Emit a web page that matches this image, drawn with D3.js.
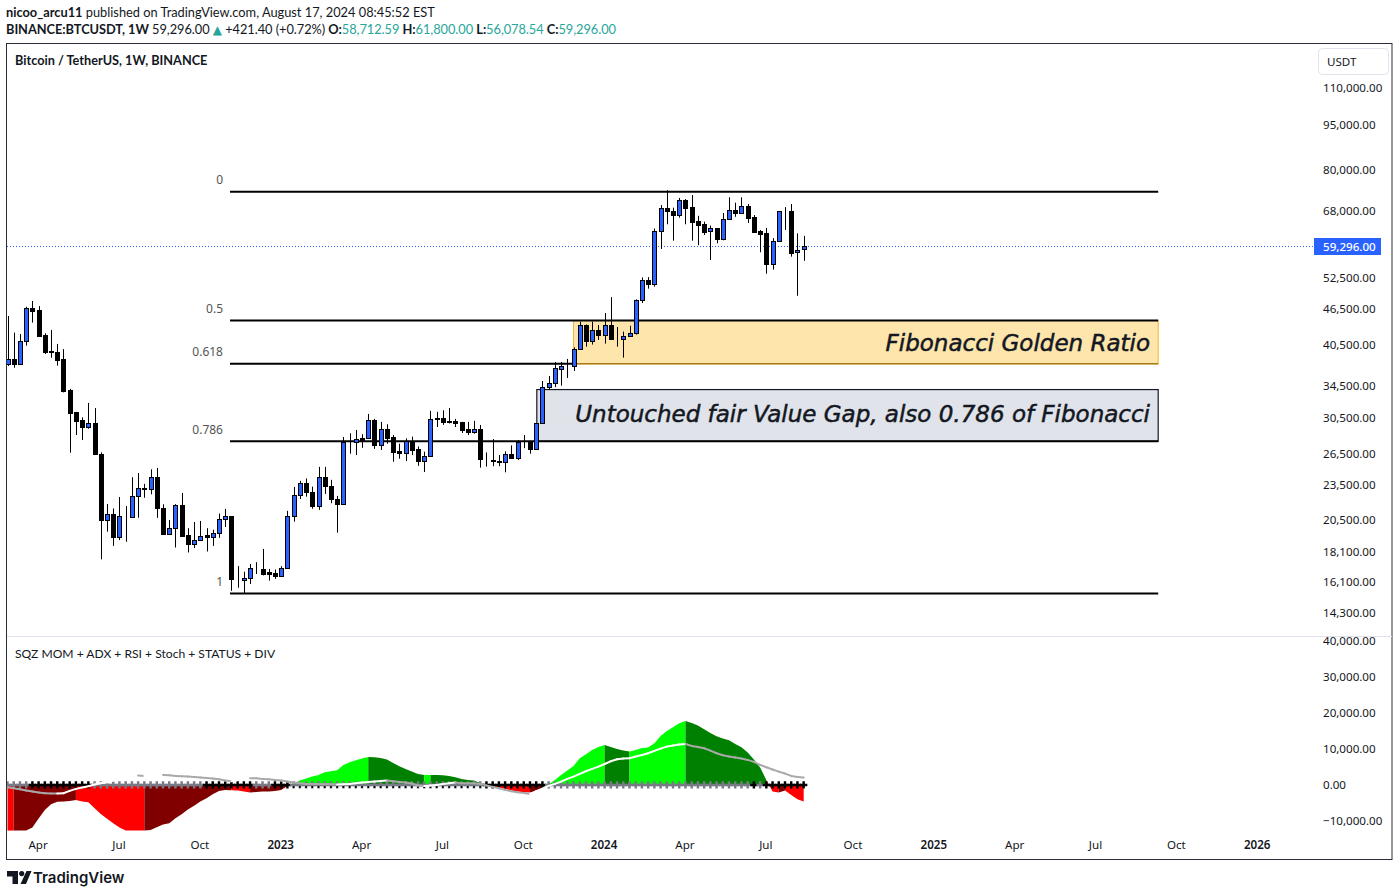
<!DOCTYPE html>
<html><head><meta charset="utf-8">
<style>html,body{margin:0;padding:0;background:#fff}svg{display:block}text{font-family:"Noto Sans",sans-serif}</style>
<script src="https://cdn.jsdelivr.net/npm/d3@7"></script></head><body>
<svg id="c" width="1399" height="896"></svg>
<script>
const opens=[37550,38230,37600,41000,46595,46330,42040,39520,39360,38230,
33940,31130,30180,29355,29830,26430,20450,20940,19190,20770,
20680,22450,23160,23070,24180,21430,19420,19890,21680,19290,
18670,18915,19290,19140,19440,20530,20770,16260,16200,16320,
17030,16930,16700,16680,16490,17010,20770,22540,23630,22815,
21650,24160,23410,22250,21825,27770,27770,28130,28130,30180,
27440,29130,28280,26740,26600,27840,26980,25790,26230,30420,
30420,30070,30070,29950,29130,28860,29130,26000,25890,25780,
25680,26430,26090,27770,27770,27000,29830,34280,34830,36900,
37220,37220,39770,43650,41130,42810,42090,43640,41520,41330,
41830,42300,48100,51980,51300,62900,68730,68000,66920,70950,
69000,65380,64630,62900,63590,61130,65900,68250,67450,69300,
66400,63000,62400,55410,60500,68000,68000,57950,58712.59];
const highs=[45250,42425,42200,46910,47970,47035,42313,42870,40600,39790,
34100,31170,30520,32280,31640,26635,21795,21420,22390,21620,
24190,24580,23570,24940,25075,21770,20480,21780,22750,19840,
20320,20400,19840,19720,21000,21380,20800,17120,16750,17260,
17380,18300,16930,16890,17110,21220,23290,23850,24065,23315,
25175,25175,23940,22490,28270,28690,29060,28590,30930,30340,
29990,29710,28490,27550,28130,28320,27250,26710,31300,31180,
31370,31650,30340,29990,29990,30100,29630,26630,28050,26360,
26740,27370,27950,28490,27800,29830,35150,35840,37850,37850,
38300,40060,44270,43800,44280,43700,45790,48700,43360,42590,
43570,48280,52570,52640,63590,69650,73777,68950,71600,71300,
72420,66800,65300,64300,63700,67540,71800,70300,71800,69950,
67000,63230,63730,61250,68000,69100,69950,62400,61800];
const lows=[37270,37010,37460,40330,44106,41755,39050,38480,37320,33630,
26600,28490,27950,29200,26390,17576,19570,18520,18940,18820,
20660,20660,22330,22630,20650,19410,19400,18400,19260,18050,
18360,18890,18120,18520,19110,19930,15550,15740,15410,15970,
16600,16510,16180,16290,16470,16990,20350,22220,22420,21390,
21300,22665,21860,19495,21770,26500,26360,27110,28090,27005,
26880,27550,25680,25990,25750,26360,25280,24680,26200,29395,
29640,29800,29395,28720,28490,28640,25100,25200,25240,25240,
24650,26060,25850,27070,26500,27000,29790,34000,34330,34520,
35570,36550,39700,40170,40500,41240,40650,41450,40170,38500,
41770,42090,47590,50330,50720,58730,64640,60650,66320,64640,
60650,59590,62000,56270,60020,60730,65900,66550,67400,64980,
62800,57980,53340,54190,60500,63230,57000,48960,56078.54];
const closes=[38230,37600,41025,46595,46210,41920,39410,39310,38200,33850,
31090,30140,29355,29830,26430,20450,20940,19190,20770,20800,
22450,23160,23070,24180,21430,19420,19890,21680,19265,18670,
18915,19265,19140,19440,20530,20770,16260,16300,16320,17010,
17040,16620,16620,16470,17010,20770,22540,23630,22815,21650,
24160,23410,22250,21825,27760,27760,28020,27950,30180,27440,
29130,28170,26710,26600,27840,26910,25790,26230,30270,30270,
29990,29990,29910,29100,28860,29130,25990,25990,25780,25680,
26430,26090,27770,27770,27000,29830,34280,34830,36940,37220,
37220,39780,43650,41130,42810,42090,43640,41450,41500,41830,
42300,48100,51980,51300,62900,68730,68000,66920,70950,68920,
65300,64550,62820,63590,61130,65900,68250,67450,69300,66300,
62820,62320,55410,60500,68000,68000,57900,58430,59296];

const momentum=[-12650,-12650,-12650,-12650,-11800,-9290,-6920,-5350,-4700,-4600,
-4430,-4150,-4600,-4800,-6460,-8030,-9410,-10600,-11800,-12650,
-12650,-12650,-12650,-12460,-11700,-11000,-10600,-9230,-8120,-6830,
-5800,-4600,-3700,-2580,-1660,-1380,-1480,-1570,-1850,-2120,
-1940,-1850,-1850,-1660,-1380,-280,460,1200,1750,2300,
2770,3500,3780,4060,5540,6280,6830,7290,7750,7660,
7480,7015,6090,5170,4430,3690,3050,2770,2770,2770,
2680,2490,2120,1660,1380,1200,550,-280,-460,-740,
-1100,-1570,-1850,-2030,-2120,-1850,-1100,180,1380,2770,
3970,5260,7380,8490,9690,10520,11080,10520,9970,9500,
9230,9690,10250,10340,11540,13570,14950,15970,17080,17720,
17170,16430,15410,14400,13480,12830,12370,11350,10430,8950,
7010,4800,1380,-1850,-2120,-1570,-2770,-3970,-4620];
const signal=[-650,-920,-1200,-1570,-1850,-2120,-2300,-2400,-2400,-2300,
-1660,-1100,-740,-370,90,460,740,1200,1660,2120,
2400,2580,2490,2580,2680,2770,2680,2490,2400,2300,
2215,2030,1940,1750,1570,1200,1015,1380,1570,1850,
1850,1660,1570,1380,1200,920,650,460,280,280,
280,180,180,90,180,280,460,650,830,920,
1110,1200,1015,830,650,370,-180,-280,-180,0,
280,460,650,460,460,460,280,-180,-550,-920,
-1380,-1750,-2030,-2220,-2490,-1750,-1020,-280,280,920,
1660,2310,3050,3780,4430,5080,5800,6550,7100,7290,
7380,7850,8300,8770,9410,10060,10600,10890,11170,11350,
10800,10520,10150,9500,8770,8210,7850,7570,7290,6920,
6370,5540,4890,4250,3690,3140,2490,2215,2030];
// per-bar state: R red, M maroon, L lime, G green
const momentumState="R"+"M".repeat(10)+"R".repeat(11)+"M".repeat(14)+"R".repeat(3)+"M".repeat(6)+"L".repeat(13)+"G".repeat(9)+"L"+"G".repeat(9)+"R".repeat(7)+"M".repeat(2)+"L".repeat(10)+"G".repeat(4)+"L".repeat(9)+"G".repeat(13)+"R".repeat(2)+"M"+"R".repeat(4);
// squeeze state: 0 grey, 1 black, 2 grey with black dot
const squeezeState="0".repeat(4)+"1".repeat(10)+"0".repeat(18)+"1".repeat(8)+"0".repeat(3)+"1".repeat(3)+"2".repeat(31)+"1".repeat(10)+"0".repeat(33)+"1"+"0"+"1".repeat(7);

const priceTicks=[110000,95000,80000,68000,52500,46500,40500,34500,30500,26500,23500,20500,18100,16100,14300];
const paneTicks=[40000,30000,20000,10000,0,-10000];
const timeIdx=[5,18,31,44,57,70,83,96,109,122,136,149,162,175,188,201];
const timeLabels=["Apr","Jul","Oct","2023","Apr","Jul","Oct","2024","Apr","Jul","Oct","2025","Apr","Jul","Oct","2026"];
const fibLevels=["0","0.5","0.618","0.786","1"];
const fibPrices=[73340,44460,37590,27810,15385];
const goldBox={from:91,to:185,top:44460,bottom:37590};
const gapBox={from:85.1,to:185,top:34000,bottom:27810};
const lastPrice=59296;

const svg=d3.select("#c");
const x=d3.scaleLinear().domain([0,128]).range([7.5,803.66]);
const y=d3.scaleLog().domain([14300,110000]).range([612.4,87.5]);
const yp=d3.scaleLinear().domain([-10000,40000]).range([821,640.5]);
const ink="#131722";

const defs=svg.append("defs");
defs.append("clipPath").attr("id","pm").append("rect").attr("x",7).attr("y",44).attr("width",1307).attr("height",592);
defs.append("clipPath").attr("id","ip").append("rect").attr("x",7).attr("y",637).attr("width",1307).attr("height",222);

// header
const h1=svg.append("text").attr("x",6).attr("y",17).style("font-family","Lato").style("font-size","12.8px").attr("fill",ink);
h1.append("tspan").attr("font-weight",700).text("nicoo_arcu11");
h1.append("tspan").text(" published on TradingView.com, August 17, 2024 08:45:52 EST");
const h2=svg.append("text").attr("x",6).attr("y",34).style("font-family","Lato").style("font-size","12.8px").attr("fill",ink).attr("textLength",610).attr("lengthAdjust","spacing");
const teal="#26a69a";
[["BINANCE:BTCUSDT, 1W",700,ink],["  59,296.00 ",400,ink],["▲",400,teal],[" +421.40 (+0.72%) ",400,ink],["O:",700,ink],["58,712.59 ",400,teal],["H:",700,ink],["61,800.00 ",400,teal],["L:",700,ink],["56,078.54 ",400,teal],["C:",700,ink],["59,296.00",400,teal]]
 .forEach(s=>{const t=h2.append("tspan").attr("font-weight",s[1]).attr("fill",s[2]).text(s[0]); if(s[0]==="▲") t.style("font-family","DejaVu Sans").style("font-size","12px");});

// frame
svg.append("rect").attr("x",6.5).attr("y",43.5).attr("width",1385.5).attr("height",816).attr("fill","none").attr("stroke","#2a2e39").attr("stroke-width",1);
svg.append("line").attr("x1",7).attr("x2",1392).attr("y1",636.5).attr("y2",636.5).attr("stroke","#e0e3eb");
svg.append("text").attr("x",15).attr("y",64.5).style("font-family","Lato").style("font-size","12.7px").attr("font-weight",700).attr("fill",ink).text("Bitcoin / TetherUS, 1W, BINANCE");
svg.append("text").attr("x",15).attr("y",657.5).style("font-family","Lato").style("font-size","12.1px").attr("fill",ink).text("SQZ MOM + ADX + RSI + Stoch + STATUS + DIV");

const main=svg.append("g").attr("clip-path","url(#pm)");
// zones
main.append("rect").attr("x",x(gapBox.from)).attr("y",y(gapBox.top)).attr("width",x(gapBox.to)-x(gapBox.from)).attr("height",y(gapBox.bottom)-y(gapBox.top)).attr("fill","#e0e3e9").attr("stroke","#131722").attr("stroke-width",1.2);
main.append("rect").attr("x",x(goldBox.from)).attr("y",y(goldBox.top)).attr("width",x(goldBox.to)-x(goldBox.from)).attr("height",y(goldBox.bottom)-y(goldBox.top)).attr("fill","#fde5ac").attr("stroke","#f5b335").attr("stroke-width",1);
// price line
main.append("line").attr("x1",7).attr("x2",1314).attr("y1",Math.round(y(lastPrice))+0.5).attr("y2",Math.round(y(lastPrice))+0.5).attr("stroke","#2962ff").attr("stroke-dasharray","1 2");
// fib
main.selectAll("line.fib").data(fibPrices).join("line").attr("class","fib").attr("x1",230).attr("x2",d=>d===goldBox.bottom?x(goldBox.from):x(goldBox.to)).attr("y1",d=>y(d)).attr("y2",d=>y(d)).attr("stroke","#000").attr("stroke-width",2);
main.append("line").attr("x1",x(goldBox.from)).attr("x2",x(goldBox.to)).attr("y1",y(goldBox.bottom)).attr("y2",y(goldBox.bottom)).attr("stroke","#a87c10").attr("stroke-width",1.5);
svg.selectAll("text.fl").data(fibLevels).join("text").attr("class","fl").attr("x",223).attr("y",(d,i)=>y(fibPrices[i])-11.5).attr("dy","0.35em").attr("text-anchor","end").attr("font-size",12).attr("fill","#555").text(d=>d);
// candles
const cg=main.selectAll("g.cd").data(d3.range(opens.length)).join("g").attr("class","cd");
cg.append("line").attr("x1",i=>Math.round(x(i))+.5).attr("x2",i=>Math.round(x(i))+.5).attr("y1",i=>y(highs[i])).attr("y2",i=>y(lows[i])).attr("stroke","#000").attr("stroke-width",1);
cg.append("rect").attr("x",i=>Math.round(x(i))-1.5).attr("width",4)
 .attr("y",i=>Math.round(y(Math.max(opens[i],closes[i])))+.5)
 .attr("height",i=>Math.max(0,Math.round(y(Math.min(opens[i],closes[i])))-Math.round(y(Math.max(opens[i],closes[i])))))
 .attr("fill",i=>closes[i]>=opens[i]?"#2962ff":"#000").attr("stroke","#000").attr("stroke-width",1);
// annotation text
svg.append("text").attr("x",1150).attr("y",y(40850)).attr("dy","0.36em").attr("text-anchor","end").style("font-family","DejaVu Sans").style("font-style","italic").attr("font-size",23).attr("fill","#131722").attr("stroke","#131722").attr("stroke-width",.5).text("Fibonacci Golden Ratio");
svg.append("text").attr("x",1150).attr("y",y(30950)).attr("dy","0.36em").attr("text-anchor","end").style("font-family","DejaVu Sans").style("font-style","italic").attr("font-size",23).attr("fill","#131722").attr("stroke","#131722").attr("stroke-width",.5).text("Untouched fair Value Gap, also 0.786 of Fibonacci");

// indicator pane: contiguous bars of one state become one area
const stateColor={R:"#ff0000",M:"#800000",L:"#00ff00",G:"#008000"};
const pane=svg.append("g").attr("clip-path","url(#ip)");
const runs=[];
d3.range(momentum.length-1).forEach(i=>{
  const last=runs[runs.length-1];
  if(last&&momentumState[last[0]]===momentumState[i]) last.push(i+1); else runs.push([i,i+1]);
});
const area=d3.area().x(i=>x(i)).y0(yp(0)).y1(i=>yp(momentum[i]));
pane.selectAll("path.m").data(runs).join("path").attr("class","m").attr("d",area).attr("fill",r=>stateColor[momentumState[r[0]]]);
pane.selectAll("path.s").data(d3.range(momentum.length)).join("path").attr("class","s").attr("transform",i=>`translate(${x(i)},${yp(0)})`).attr("d",d3.symbol(d3.symbolCross,30)).attr("fill",i=>squeezeState[i]==="1"?"#000":"#787b86");
pane.selectAll("circle.d").data(d3.range(momentum.length).filter(i=>squeezeState[i]==="2")).join("circle").attr("class","d").attr("cx",i=>x(i)).attr("cy",yp(0)+2.2).attr("r",1).attr("fill","#000");
const line=d3.line().x(i=>x(i)).y(i=>yp(signal[i]));
pane.selectAll("path.l").data(d3.range(signal.length-1)).join("path").attr("class","l").attr("d",i=>line([i,i+1])).attr("fill","none").attr("stroke-width",2).attr("stroke-linecap","round").attr("stroke",i=>signal[i+1]>signal[i]?"#ffffff":"#a9a9a9");

// axes
const fmt=d3.format(",.2f");
const ay=d3.axisRight(y).tickValues(priceTicks).tickFormat(fmt).tickSize(0).tickPadding(0);
const ayg=svg.append("g").attr("transform","translate(1323,0)").call(ay);
const ap=d3.axisRight(yp).tickValues(paneTicks).tickFormat(fmt).tickSize(0).tickPadding(0);
const apg=svg.append("g").attr("transform","translate(1323,0)").call(ap);
const ax=d3.axisBottom(x).tickValues(timeIdx).tickFormat((d,i)=>timeLabels[i]).tickSize(0).tickPadding(0);
const axg=svg.append("g").attr("transform","translate(-1,840.5)").call(ax);
[ayg,apg,axg].forEach(g=>{g.select(".domain").remove();g.selectAll("text").attr("fill",ink).style("font-family","Noto Sans").style("font-size","11.6px");});
axg.selectAll("text").filter((d,i)=>/^20/.test(timeLabels[i])).attr("font-weight",600);

// last price tag
svg.append("rect").attr("x",1314).attr("y",238).attr("width",67).attr("height",17).attr("fill","#2962ff");
svg.append("text").attr("x",1323).attr("y",y(lastPrice)).attr("dy","0.35em").attr("fill","#fff").attr("font-size",11.6).attr("font-weight",500).text(fmt(lastPrice));
// currency button
svg.append("rect").attr("x",1318.5).attr("y",48.5).attr("width",70).attr("height",26).attr("rx",4).attr("fill","#fff").attr("stroke","#e0e3eb");
svg.append("text").attr("x",1327).attr("y",61.5).attr("dy","0.35em").attr("fill",ink).attr("font-size",11.6).text("USDT");

// footer logo
svg.append("path").attr("fill",ink).attr("d","M7 871h11v13h-5.5v-7.5H7zM26.5 871h5l-5.5 13h-5.5z");
svg.append("circle").attr("cx",21.7).attr("cy",873.6).attr("r",2.6).attr("fill",ink);
svg.append("text").attr("x",33).attr("y",883).style("font-family","Inter").attr("font-size",15).attr("font-weight",600).attr("fill",ink).text("TradingView");
</script></body></html>
